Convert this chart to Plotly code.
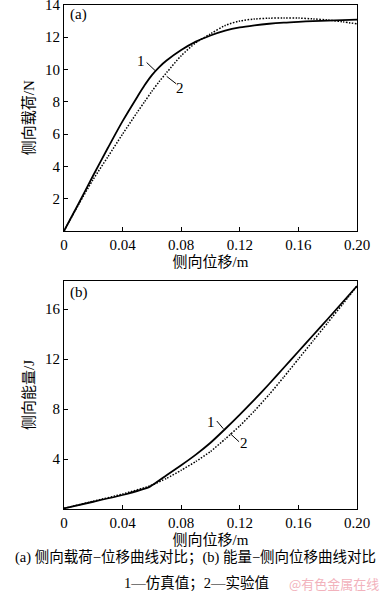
import plotly.graph_objects as go

# ---- data ----
load_disp = [0, 0.01, 0.02, 0.03, 0.04, 0.05, 0.055, 0.06, 0.065, 0.07, 0.08, 0.09, 0.10,
             0.11, 0.12, 0.13, 0.14, 0.15, 0.16, 0.17, 0.18, 0.19, 0.20]
load_sim = [0, 1.7, 3.45, 5.15, 6.8, 8.3, 9.02, 9.65, 10.15, 10.55, 11.2, 11.72, 12.1,
            12.4, 12.6, 12.73, 12.83, 12.9, 12.95, 12.99, 13.02, 13.05, 13.08]
load_exp = [0, 1.65, 3.2, 4.6, 6.0, 7.35, 8.0, 8.65, 9.25, 9.8, 10.85, 11.65, 12.2,
            12.72, 13.0, 13.12, 13.17, 13.19, 13.18, 13.13, 13.06, 12.95, 12.82]

energy_disp = [0, 0.02, 0.04, 0.0587, 0.07, 0.08, 0.09, 0.10, 0.11, 0.12,
               0.13, 0.14, 0.15, 0.16, 0.17, 0.18, 0.19, 0.20]
energy_sim = [0.05, 0.58, 1.12, 1.79, 2.7, 3.5, 4.35, 5.3, 6.4, 7.55,
              8.75, 10.0, 11.3, 12.6, 13.9, 15.2, 16.52, 17.84]
energy_exp = [0.05, 0.62, 1.2, 1.85, 2.45, 3.1, 3.8, 4.6, 5.6, 6.65,
              7.85, 9.15, 10.55, 12.0, 13.45, 14.9, 16.35, 17.84]

x_ticks = [0, 0.04, 0.08, 0.12, 0.16, 0.20]
x_ticktext = ["0", "0.04", "0.08", "0.12", "0.16", "0.20"]
ya_ticks = [2, 4, 6, 8, 10, 12, 14]
yb_ticks = [4, 8, 12, 16]

FONT = "Liberation Serif, Noto Sans CJK SC, serif"
W, H = 385, 592

SOLID = dict(color="black", width=1.8, shape="spline", smoothing=0.8)
DOTTED = dict(color="black", width=1.5, dash="1.5px,1.5px", shape="spline", smoothing=0.8)

fig = go.Figure()
fig.add_trace(go.Scatter(x=load_disp, y=load_sim, mode="lines", line=SOLID, xaxis="x", yaxis="y"))
fig.add_trace(go.Scatter(x=load_disp, y=load_exp, mode="lines", line=DOTTED, xaxis="x", yaxis="y"))
fig.add_trace(go.Scatter(x=energy_disp, y=energy_sim, mode="lines",
                         line=dict(SOLID, smoothing=0.5), xaxis="x2", yaxis="y2"))
fig.add_trace(go.Scatter(x=energy_disp, y=energy_exp, mode="lines",
                         line=dict(DOTTED, smoothing=0.5), xaxis="x2", yaxis="y2"))

xdom = [64 / W, 357 / W]
axcommon = dict(showgrid=False, zeroline=False, showline=True, linecolor="black", linewidth=1,
                mirror=True, ticks="inside", ticklen=4, tickcolor="black", automargin=False,
                ticklabeloverflow="allow",
                tickfont=dict(family=FONT, size=15, color="black"))

fig.update_layout(
    width=W, height=H, margin=dict(l=0, r=0, t=0, b=0, autoexpand=False),
    paper_bgcolor="white", plot_bgcolor="white", showlegend=False,
    font=dict(family=FONT, size=15, color="black"),
    xaxis=dict(domain=xdom, anchor="y", range=[0, 0.2], tickvals=x_ticks, ticktext=x_ticktext,
               title=dict(text="侧向位移/m", font=dict(family=FONT, size=15), standoff=4), **axcommon),
    yaxis=dict(domain=[1 - 231 / H, 1 - 4.5 / H], anchor="x", range=[0, 14.02], tickvals=ya_ticks,
               title=dict(text="侧向载荷/N", font=dict(family=FONT, size=15), standoff=6), **axcommon),
    xaxis2=dict(domain=xdom, anchor="y2", range=[0, 0.2], tickvals=x_ticks, ticktext=x_ticktext,
                title=dict(text="侧向位移/m", font=dict(family=FONT, size=15), standoff=4), **axcommon),
    yaxis2=dict(domain=[1 - 509 / H, 1 - 281 / H], anchor="x2", range=[0, 18.24], tickvals=yb_ticks,
                title=dict(text="侧向能量/J", font=dict(family=FONT, size=15), standoff=6), **axcommon),
)

# leader lines
for (xr, yr, x0, y0, x1, y1) in [
    ("x", "y", 0.0564, 10.43, 0.0621, 9.94),
    ("x", "y", 0.0701, 9.57, 0.0765, 9.12),
    ("x2", "y2", 0.1043, 7.04, 0.1088, 6.42),
    ("x2", "y2", 0.1133, 6.05, 0.1195, 5.38),
]:
    fig.add_shape(type="line", xref=xr, yref=yr, x0=x0, y0=y0, x1=x1, y1=y1,
                  line=dict(color="black", width=1))

for (xr, yr, x, y, t) in [
    ("x", "y", 0.0528, 10.5, "1"),
    ("x", "y", 0.0795, 8.85, "2"),
    ("x2", "y2", 0.1003, 7.0, "1"),
    ("x2", "y2", 0.1226, 5.25, "2"),
]:
    fig.add_annotation(xref=xr, yref=yr, x=x, y=y, text=t, showarrow=False,
                       font=dict(family=FONT, size=15, color="black"))

fig.add_annotation(xref="paper", yref="paper", x=68 / W, y=1 - 15 / H, text="(a)", showarrow=False,
                   xanchor="left", yanchor="middle", font=dict(family=FONT, size=15))
fig.add_annotation(xref="paper", yref="paper", x=68 / W, y=1 - 292 / H, text="(b)", showarrow=False,
                   xanchor="left", yanchor="middle", font=dict(family=FONT, size=15))

fig.add_annotation(xref="paper", yref="paper", x=196 / W, y=1 - 557 / H,
                   text="(a) 侧向载荷−位移曲线对比；(b) 能量−侧向位移曲线对比", showarrow=False,
                   xanchor="center", yanchor="middle", font=dict(family=FONT, size=14.5))
fig.add_annotation(xref="paper", yref="paper", x=197 / W, y=1 - 583 / H,
                   text="1—仿真值；2—实验值", showarrow=False,
                   xanchor="center", yanchor="middle", font=dict(family=FONT, size=14.5))
fig.add_annotation(xref="paper", yref="paper", x=381 / W, y=1 - 583 / H,
                   text="@有色金属在线", showarrow=False,
                   xanchor="right", yanchor="middle",
                   font=dict(family="Noto Sans CJK SC, sans-serif", size=13, color="rgb(242,178,188)"))

fig.write_html("out.html", config={"displayModeBar": False},
               post_script="document.body.style.margin='0';document.body.style.overflow='hidden';")
